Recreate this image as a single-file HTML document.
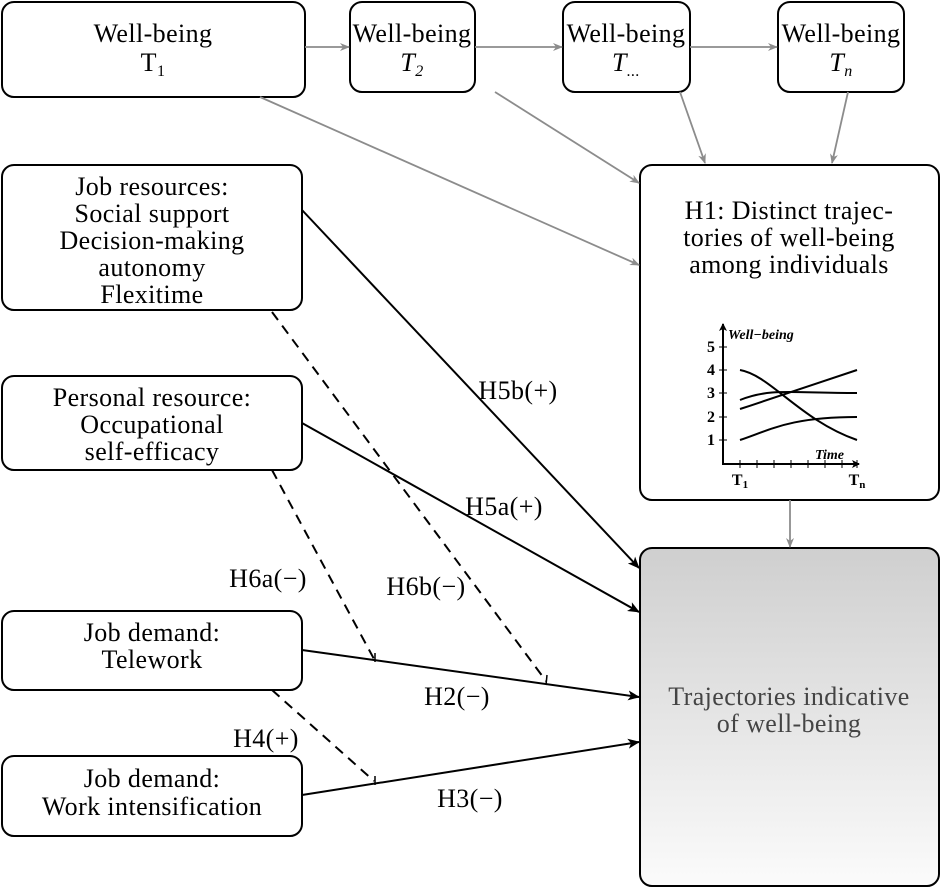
<!DOCTYPE html>
<html><head><meta charset="utf-8"><style>
body{margin:0;background:#fff}
svg{display:block;font-family:"Liberation Serif",serif}
</style></head><body>
<svg width="945" height="889" viewBox="0 0 945 889" xmlns="http://www.w3.org/2000/svg">
<defs>
<linearGradient id="g" x1="0" y1="0" x2="0" y2="1"><stop offset="0" stop-color="#cfcfcf"/><stop offset="1" stop-color="#fbfbfb"/></linearGradient>
<marker id="ag" markerWidth="10" markerHeight="8" refX="9" refY="4" orient="auto" markerUnits="userSpaceOnUse"><path d="M0,0 L10,4 L0,8 L3,4Z" fill="#8c8c8c"/></marker>
<marker id="ab" markerWidth="12" markerHeight="10" refX="11" refY="5" orient="auto" markerUnits="userSpaceOnUse"><path d="M0,0 L12,5 L0,10 L3,5Z" fill="#000"/></marker>
<marker id="as" markerWidth="8" markerHeight="8" refX="7" refY="4" orient="auto" markerUnits="userSpaceOnUse"><path d="M0,0 L8,4 L0,8 L2,4Z" fill="#000"/></marker>
</defs>
<g fill="#fff" stroke="#000" stroke-width="2">
<rect x="2" y="2" width="303" height="95" rx="12"/>
<rect x="350" y="2" width="125" height="90" rx="12"/>
<rect x="563" y="2" width="127" height="90" rx="12"/>
<rect x="778" y="2" width="126" height="90" rx="12"/>
<rect x="2" y="165" width="300" height="145" rx="12"/>
<rect x="2" y="376" width="300" height="94" rx="12"/>
<rect x="2" y="611" width="300" height="79" rx="12"/>
<rect x="2" y="756" width="300" height="80" rx="12"/>
<rect x="640" y="165" width="299" height="335" rx="12"/>
<rect x="640" y="548" width="299" height="338" rx="12" fill="url(#g)"/>
</g>
<g stroke="#8c8c8c" stroke-width="1.8" marker-end="url(#ag)">
<line x1="305" y1="47" x2="349" y2="47"/>
<line x1="475" y1="47" x2="562" y2="47"/>
<line x1="690" y1="47" x2="777" y2="47"/>
<line x1="260" y1="97" x2="639" y2="265"/>
<line x1="495" y1="92" x2="639" y2="183"/>
<line x1="680" y1="92" x2="705" y2="163"/>
<line x1="848" y1="92" x2="832" y2="163"/>
<line x1="790" y1="500" x2="790" y2="547"/>
</g>
<g stroke="#000" stroke-width="2" marker-end="url(#ab)">
<line x1="302" y1="210" x2="639" y2="568"/>
<line x1="302" y1="423" x2="639" y2="612"/>
<line x1="302" y1="650" x2="639" y2="697"/>
<line x1="302" y1="795" x2="639" y2="742"/>
</g>
<g stroke="#000" stroke-width="2" stroke-dasharray="10,7" fill="none">
<line x1="272" y1="312" x2="546" y2="681"/>
<line x1="272" y1="470" x2="374" y2="659"/>
<line x1="272" y1="690" x2="374" y2="781"/>
</g>
<g stroke="#000" stroke-width="1.5"><line x1="547" y1="675" x2="546" y2="685"/><line x1="375" y1="653" x2="375" y2="662"/><line x1="375" y1="776" x2="375" y2="785"/></g>
<g font-size="26" letter-spacing="0.4" text-anchor="middle" fill="#000">
<text x="153" y="42">Well-being</text><text x="153" y="71">T<tspan font-size="16" dy="5">1</tspan></text>
<text x="412" y="42">Well-being</text><text x="412" y="71" font-style="italic">T<tspan font-size="16" dy="5">2</tspan></text>
<text x="626" y="42">Well-being</text><text x="626" y="71" font-style="italic">T<tspan font-size="16" dy="5">...</tspan></text>
<text x="841" y="42">Well-being</text><text x="841" y="71" font-style="italic">T<tspan font-size="16" dy="5">n</tspan></text>
<text x="152" y="195">Job resources:</text><text x="152" y="222">Social support</text><text x="152" y="249">Decision-making</text><text x="152" y="276">autonomy</text><text x="152" y="303">Flexitime</text>
<text x="152" y="406">Personal resource:</text><text x="152" y="433">Occupational</text><text x="152" y="460">self-efficacy</text>
<text x="152" y="641">Job demand:</text><text x="152" y="668">Telework</text>
<text x="152" y="787">Job demand:</text><text x="152" y="815">Work intensification</text>
<text x="789" y="219">H1: Distinct trajec-</text><text x="789" y="246">tories of well-being</text><text x="789" y="273">among individuals</text>
<text x="789" y="705" fill="#444">Trajectories indicative</text><text x="789" y="732" fill="#444">of well-being</text>
<text x="518" y="399">H5b(+)</text><text x="504" y="515">H5a(+)</text>
<text x="268" y="587">H6a(−)</text><text x="426" y="595">H6b(−)</text>
<text x="457" y="705">H2(−)</text><text x="266" y="747">H4(+)</text><text x="470" y="807">H3(−)</text>
</g>
<g stroke="#000" stroke-width="2" fill="none">
<line x1="723" y1="464" x2="723" y2="324" marker-end="url(#as)"/>
<line x1="722" y1="464" x2="859" y2="464" marker-end="url(#as)"/>
<path d="M740,370 C770,375 800,420 857,440"/>
<path d="M740,400 C770,388 790,393 857,393"/>
<path d="M740,409 C780,396 820,382 857,370"/>
<path d="M740,440 C770,430 790,417 857,417"/>
</g>
<g stroke="#000" stroke-width="1"><path d="M719,347h8M719,370h8M719,393h8M719,417h8M719,440h8M740,460v8M757,460v8M774,460v8M791,460v8M808,460v8M825,460v8M842,460v8M857,460v8"/></g>
<g font-size="16" font-weight="bold" text-anchor="end"><text x="715" y="352">5</text><text x="715" y="375">4</text><text x="715" y="398">3</text><text x="715" y="422">2</text><text x="715" y="445">1</text></g>
<text x="728" y="339" font-size="14" font-style="italic" font-weight="bold">Well−being</text>
<text x="815" y="459" font-size="14" font-style="italic" font-weight="bold">Time</text>
<text x="740" y="485" font-size="16" font-weight="bold" text-anchor="middle">T<tspan font-size="11" dy="3">1</tspan></text>
<text x="857" y="485" font-size="16" font-weight="bold" text-anchor="middle">T<tspan font-size="11" dy="3">n</tspan></text>
</svg>
</body></html>
